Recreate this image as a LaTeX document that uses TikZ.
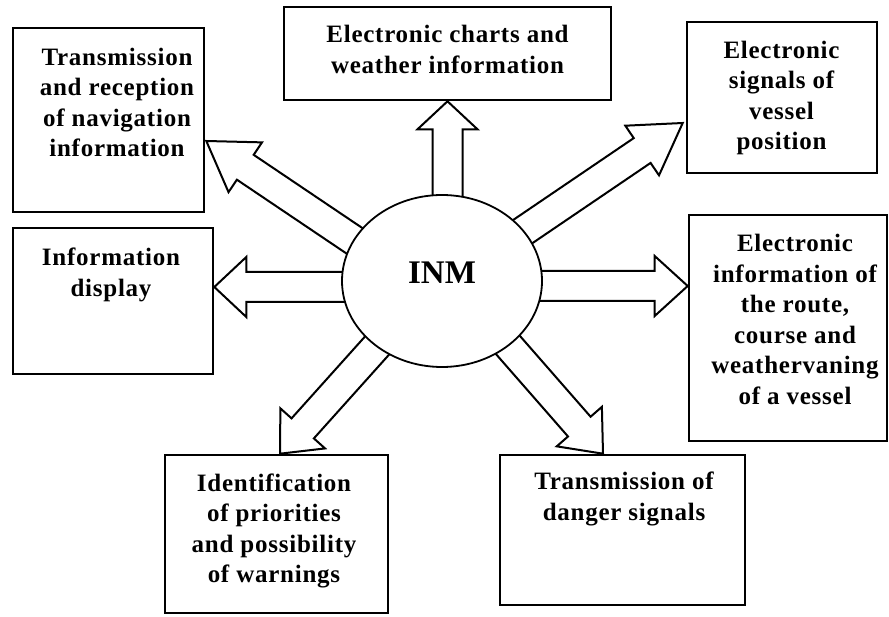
\documentclass[tikz,border=0pt]{standalone}
\usepackage{fontspec}
\setmainfont{Liberation Serif}
\newfontfamily\boxfont[LetterSpace=3]{Liberation Serif}
\usetikzlibrary{calc,shapes.geometric,backgrounds}

\tikzset{
  panel/.style={draw, rectangle, line width=2.6pt, inner sep=0pt},
  caption/.style={font=\boxfont\bfseries\fontsize{25}{30.5}\selectfont, align=center, inner sep=0pt},
  hub/.style={ellipse, draw, fill=white, line width=1.8pt, minimum width=200pt, minimum height=172pt, inner sep=0pt},
  hubtext/.style={font=\bfseries\fontsize{33}{36}\selectfont, inner sep=0pt},
  fat/.style={draw, fill=white, line width=2pt, line join=miter},
}

% hollow block arrow: #1 start, #2 tip, #3 head length
\newcommand\fatarrow[3]{%
  \path (#1) coordinate (fa-s) (#2) coordinate (fa-t);
  \path ($(fa-t)!#3!(fa-s)$) coordinate (fa-h);
  \draw[fat] ($(fa-s)!15pt!90:(fa-t)$) -- ($(fa-h)!15pt!90:(fa-t)$)
    -- ($(fa-h)!30pt!90:(fa-t)$) -- (fa-t) -- ($(fa-h)!30pt!-90:(fa-t)$)
    -- ($(fa-h)!15pt!-90:(fa-t)$) -- ($(fa-s)!15pt!-90:(fa-t)$) -- cycle;
}

\begin{document}
\begin{tikzpicture}[x=1pt, y=-1pt]
  \useasboundingbox (0,0) rectangle (889,617);

  % outer boxes
  \node[panel, minimum width=191pt, minimum height=184pt] (nav)      at (108.5,120) {};
  \node[panel, minimum width=327pt, minimum height=93pt]  (charts)   at (447.5,53.5) {};
  \node[panel, minimum width=190pt, minimum height=151pt] (position) at (782,97.5) {};
  \node[panel, minimum width=200pt, minimum height=146pt] (display)  at (113,301) {};
  \node[panel, minimum width=198pt, minimum height=226pt] (route)    at (788,328) {};
  \node[panel, minimum width=223pt, minimum height=158pt] (warnings) at (276.5,534) {};
  \node[panel, minimum width=245pt, minimum height=150pt] (danger)   at (622.5,530) {};

  % box captions
  \node[caption] (nav-t)      at (117,102.5) {Transmission\\and reception\\of navigation\\information};
  \node[caption] (charts-t)   at (447.5,49.5) {Electronic charts and\\weather information};
  \node[caption] (position-t) at (781.5,98) {Electronic\\signals of\\vessel\\position};
  \node[caption] (display-t)  at (111,275) {Information\\display};
  \node[caption] (route-t)    at (795,319.5) {Electronic\\information of\\the route,\\course and\\weathervaning\\of a vessel};
  \node[caption] (warnings-t) at (274,531) {Identification\\of priorities\\and possibility\\of warnings};
  \node[caption] (danger-t)   at (624,499) {Transmission of\\danger signals};

  % central hub
  \node[hub] (inm) at (442,281) {};
  \node[hubtext] (inm-t) at (442,273) {INM};

  % arrow end points
  \coordinate (s-nav)      at ($(inm.center)+(-63.5,-24)$);
  \coordinate (s-charts)   at ($(inm.center)+(5.5,-51)$);
  \coordinate (s-position) at ($(inm.center)+(61,-36)$);
  \coordinate (s-display)  at ($(inm.center)+(-42,6)$);
  \coordinate (s-route)    at ($(inm.center)+(43,5)$);
  \coordinate (s-warnings) at ($(inm.center)+(-51,49)$);
  \coordinate (s-danger)   at ($(inm.center)+(51.6,47.6)$);

  \coordinate (t-nav)      at ($(nav.east)+(1,21)$);
  \coordinate (t-charts)   at (charts.south);
  \coordinate (t-position) at ($(position.west)+(-3,25.5)$);
  \coordinate (t-display)  at ($(display.east)+(0,-14)$);
  \coordinate (t-route)    at ($(route.west)+(0,-42)$);
  \coordinate (t-warnings) at ($(warnings.north)+(3.5,0)$);
  \coordinate (t-danger)   at ($(danger.north)+(-19.5,0)$);

  \begin{scope}[on background layer]
    \fill[white] (0,0) rectangle (889,617);
    \fatarrow{s-nav}{t-nav}{47pt}
    \fatarrow{s-charts}{t-charts}{28pt}
    \fatarrow{s-position}{t-position}{49pt}
    \fatarrow{s-display}{t-display}{32pt}
    \fatarrow{s-route}{t-route}{33pt}
    \fatarrow{s-warnings}{t-warnings}{34pt}
    \fatarrow{s-danger}{t-danger}{36pt}
  \end{scope}
\end{tikzpicture}
\end{document}
